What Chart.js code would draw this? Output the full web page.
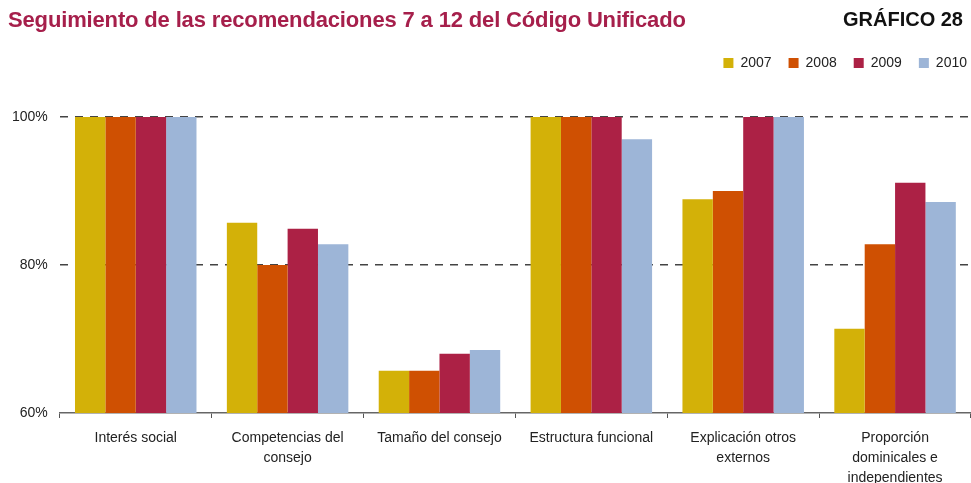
<!DOCTYPE html>
<html>
<head>
<meta charset="utf-8">
<script src="https://cdn.jsdelivr.net/npm/chart.js@4.4.0/dist/chart.umd.min.js"></script>
<style>
  body { margin: 0; background: #fff; }
  #wrap { position: relative; width: 971px; height: 483px; }
  #title { position: absolute; left: 8px; top: 7px; font: bold 22px "Liberation Sans", sans-serif; color: #a61f4b; letter-spacing: -0.15px; }
  #num { position: absolute; right: 8px; top: 8px; font: bold 20px "Liberation Sans", sans-serif; color: #111; }
</style>
</head>
<body>
<div id="wrap">
  <canvas id="myChart" width="971" height="483"></canvas>
  <div id="title">Seguimiento de las recomendaciones 7 a 12 del Código Unificado</div>
  <div id="num">GRÁFICO 28</div>
</div>
<script>
var categories = [
    'Interés social',
    ['Competencias del', 'consejo'],
    'Tamaño del consejo',
    'Estructura funcional',
    ['Explicación otros', 'externos'],
    ['Proporción', 'dominicales e', 'independientes']
];
var years = ['2007', '2008', '2009', '2010'];
var v2007 = [100, 85.7, 65.7, 100, 88.9, 71.4];
var v2008 = [100, 80.0, 65.7, 100, 90.0, 82.8];
var v2009 = [100, 84.9, 68.0, 100, 100, 91.1];
var v2010 = [100, 82.8, 68.5, 97.0, 100, 88.5];
var colors = ['#d3b108', '#cf5002', '#ac2145', '#9db5d7'];

var font = '"Liberation Sans", sans-serif';

// push the plot area down below the legend, and the legend a bit to the right
var legendGap = {
    id: 'legendGap',
    beforeInit: function (chart) {
        var fit = chart.legend.fit;
        chart.legend.fit = function () {
            fit.bind(chart.legend)();
            this.height += 37;
        };
    },
    afterLayout: function (chart) {
        chart.legend.left += 13;
        chart.legend.right += 13;
    }
};

var ctx = document.getElementById('myChart').getContext('2d');
var chart = new Chart(ctx, {
    type: 'bar',
    data: {
        labels: categories,
        datasets: [v2007, v2008, v2009, v2010].map(function (d, i) {
            return {
                label: years[i],
                data: d,
                backgroundColor: colors[i],
                categoryPercentage: 0.8,
                barPercentage: 1.0
            };
        })
    },
    options: {
        responsive: false,
        animation: false,
        layout: { padding: { top: 39, right: 0, left: 0, bottom: 0 } },
        plugins: {
            legend: {
                position: 'top',
                align: 'end',
                labels: {
                    boxWidth: 10, boxHeight: 10, padding: 17,
                    color: '#222',
                    font: { family: font, size: 14 }
                }
            },
            tooltip: { enabled: false }
        },
        scales: {
            x: {
                afterFit: function (scale) { scale.height = 70; },
                grid: {
                    offset: true,
                    drawOnChartArea: false,
                    drawTicks: true,
                    tickLength: 5,
                    color: '#555'
                },
                border: { color: '#666', width: 1.5 },
                ticks: {
                    color: '#222',
                    padding: 10,
                    maxRotation: 0,
                    autoSkip: false,
                    font: { family: font, size: 14, lineHeight: 1.43 }
                }
            },
            y: {
                min: 60,
                max: 100,
                ticks: {
                    stepSize: 20,
                    color: '#222',
                    padding: 12,
                    font: { family: font, size: 14 },
                    callback: function (v) { return v + '%'; }
                },
                grid: {
                    drawTicks: false,
                    color: function (c) { return c.tick.value === 60 ? 'rgba(0,0,0,0)' : '#444'; },
                    lineWidth: 1.5
                },
                border: { display: false, dash: [8, 7] }
            }
        }
    },
    plugins: [legendGap]
});
</script>
</body>
</html>
